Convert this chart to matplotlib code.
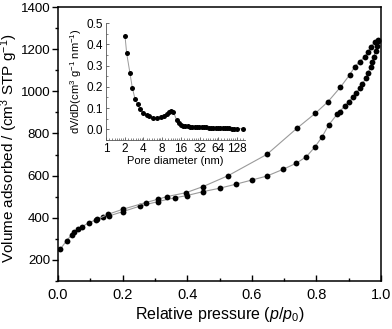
import numpy as np
import matplotlib
matplotlib.use("Agg")
import matplotlib.pyplot as plt
from matplotlib.ticker import MultipleLocator, FixedLocator, NullFormatter

plt.rcParams['font.family'] = ['Liberation Sans', 'DejaVu Sans']
plt.rcParams['mathtext.fontset'] = 'custom'
plt.rcParams['mathtext.rm'] = 'Liberation Sans'
plt.rcParams['mathtext.it'] = 'Liberation Sans:italic'

# N2 isotherm: adsorption branch
p_ads = [0.007, 0.027, 0.042, 0.050, 0.063, 0.075, 0.096, 0.118, 0.140, 0.159,
         0.200, 0.255, 0.310, 0.362, 0.398, 0.449, 0.500, 0.550, 0.600, 0.647,
         0.697, 0.738, 0.769, 0.795, 0.818, 0.838, 0.864, 0.872, 0.888, 0.901,
         0.913, 0.924, 0.934, 0.942, 0.953, 0.960, 0.968, 0.973, 0.978, 0.983,
         0.987, 0.990]
v_ads = [251, 292, 319, 331, 346, 358, 377, 390, 403, 409,
         429, 456, 477, 495, 505, 524, 540, 559, 579, 598,
         630, 659, 690, 735, 785, 840, 891, 903, 932, 951,
         975, 994, 1014, 1035, 1062, 1086, 1117, 1141, 1165, 1190,
         1215, 1240]

# desorption branch
p_des = [0.990, 0.980, 0.970, 0.960, 0.950, 0.934, 0.919, 0.903, 0.874, 0.836,
         0.797, 0.740, 0.647, 0.527, 0.449, 0.396, 0.336, 0.310, 0.271, 0.200,
         0.156, 0.120]
v_des = [1245, 1235, 1212, 1188, 1164, 1141, 1117, 1078, 1019, 951,
         896, 825, 701, 600, 548, 519, 500, 488, 472, 440,
         417, 392]

# pore size distribution
pore_d = [2.02, 2.15, 2.43, 2.65, 2.93, 3.24, 3.53, 3.99, 4.52, 4.98,
          5.65, 6.54, 7.60, 8.58, 9.49, 10.3, 11.1, 12.1, 13.7, 14.9,
          16.0, 17.5, 19.0, 20.7, 22.6, 24.6, 26.8, 29.2, 31.8, 34.7,
          37.8, 41.2, 44.9, 48.9, 53.3, 58.1, 63.3, 69.0, 75.0, 82.0,
          89.0, 97.0, 106, 115, 126, 159]
dvdd = [0.441, 0.358, 0.264, 0.196, 0.143, 0.118, 0.094, 0.078, 0.067, 0.061,
        0.055, 0.055, 0.058, 0.064, 0.071, 0.080, 0.086, 0.083, 0.044, 0.028,
        0.022, 0.018, 0.016, 0.014, 0.013, 0.012, 0.011, 0.011, 0.010, 0.010,
        0.009, 0.009, 0.008, 0.008, 0.007, 0.007, 0.006, 0.006, 0.006, 0.005,
        0.005, 0.005, 0.004, 0.004, 0.004, 0.003]

x_ticks = [0.0, 0.2, 0.4, 0.6, 0.8, 1.0]
y_ticks = [200, 400, 600, 800, 1000, 1200, 1400]
d_ticks = [1, 2, 4, 8, 16, 32, 64, 128]
inset_y_ticks = [0.0, 0.1, 0.2, 0.3, 0.4, 0.5]

W, H = 392, 329
fig = plt.figure(figsize=(W / 100, H / 100), dpi=100)

ax = fig.add_axes([58 / W, 1 - 281 / H, (381 - 58) / W, (281 - 7) / H])
line_kw = dict(color='#9a9a9a', lw=0.8, marker='o', ms=4.2,
               mfc='black', mec='black', mew=0)
ax.plot(p_ads, v_ads, **line_kw)
ax.plot(p_des, v_des, **line_kw)
ax.set_xlim(0, 1.0)
ax.set_ylim(100, 1400)
ax.set_xticks(x_ticks)
ax.set_xticklabels([f"{t:.1f}" for t in x_ticks])
ax.set_yticks(y_ticks)
ax.xaxis.set_minor_locator(MultipleLocator(0.1))
ax.yaxis.set_minor_locator(MultipleLocator(100))
ax.tick_params(axis='x', which='major', direction='in', length=4, width=1,
               labelsize=10.5, pad=5)
ax.tick_params(axis='x', which='minor', direction='in', length=2.5, width=1)
ax.tick_params(axis='y', which='major', direction='out', length=4.5, width=1,
               labelsize=9.6, pad=1.2)
ax.tick_params(axis='y', which='minor', direction='out', length=2.5, width=1)
for s in ax.spines.values():
    s.set_linewidth(1.1)
ax.set_xlabel(r"Relative pressure ($\mathit{p/p_{0}}$)", fontsize=11.5, labelpad=2)
fig.text(9.5 / W, 1 - 148 / H, r"Volume adsorbed / (cm$^{3}$ STP g$^{-1}$)",
         rotation=90, ha='center', va='center', fontsize=11)

# inset: pore size distribution on a log2 diameter axis
ins = fig.add_axes([106 / W, 1 - 140 / H, (245 - 106) / W, (140 - 23) / H])
ins.plot(pore_d, dvdd, color='#9a9a9a', lw=0.7, marker='o', ms=3.6,
         mfc='black', mec='black', mew=0)
ins.set_xscale('log', base=2)
ins.set_xlim(1, 2 ** 7.43)
ins.set_ylim(-0.05, 0.5)
ins.xaxis.set_major_locator(FixedLocator(d_ticks))
ins.set_xticklabels([str(t) for t in d_ticks])
minor = [d * f for d in [1, 2, 4, 8, 16, 32, 64, 128]
         for f in np.arange(1.125, 2.0, 0.125)]
ins.xaxis.set_minor_locator(FixedLocator(minor))
ins.xaxis.set_minor_formatter(NullFormatter())
ins.set_yticks(inset_y_ticks)
ins.set_yticklabels([f"{t:.1f}" for t in inset_y_ticks])
ins.yaxis.set_minor_locator(MultipleLocator(0.05))
ins.spines['top'].set_visible(False)
ins.spines['right'].set_visible(False)
for s in ['left', 'bottom']:
    ins.spines[s].set_linewidth(0.6)
    ins.spines[s].set_color('#555555')
ins.tick_params(which='major', direction='in', length=2.5, width=0.6,
                color='#555555', labelsize=8.5, pad=2)
ins.tick_params(which='minor', direction='in', length=1.5, width=0.5,
                color='#555555')
ins.set_xlabel("Pore diameter (nm)", fontsize=8, labelpad=1)
ins.set_ylabel(r"dV/dD(cm$^{3}$ g$^{-1}$ nm$^{-1}$)", fontsize=8, labelpad=2)
ins.patch.set_alpha(0)

fig.savefig("out.png", dpi=100)
